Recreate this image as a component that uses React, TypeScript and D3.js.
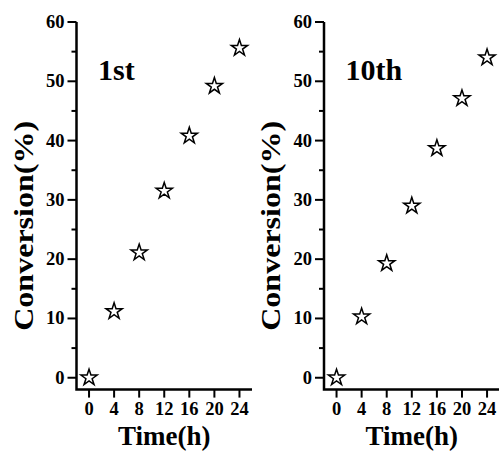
import React, { useRef, useEffect } from 'react';
import * as d3 from 'd3';

const times = [0, 4, 8, 12, 16, 20, 24];
const firstRun = [0, 11.2, 21.1, 31.5, 40.8, 49.2, 55.6];
const tenthRun = [0, 10.3, 19.3, 29.0, 38.7, 47.1, 54.0];
const yTicks = [0, 10, 20, 30, 40, 50, 60];
const yMinorTicks = [5, 15, 25, 35, 45, 55];
const panelLabels = ['1st', '10th'];

const W = 499;
const H = 454;
const FONT = '"Liberation Serif", "Times New Roman", serif';

export default function App() {
  const svgRef = useRef<SVGSVGElement>(null);

  useEffect(() => {
    if (!svgRef.current) return;
    const svg = d3.select(svgRef.current);
    svg.selectAll('*').remove();

    const yScale = d3.scaleLinear().domain([-2, 60]).range([389.6, 22]);
    const panels = [
      { left: 76.5, right: 252, values: firstRun, label: panelLabels[0] },
      { left: 324, right: 499.6, values: tenthRun, label: panelLabels[1] },
    ];

    const star = d3.symbol().type(d3.symbolStar).size(82);

    panels.forEach((p) => {
      const xScale = d3.scaleLinear().domain([-2, 26]).range([p.left, p.right]);
      const g = svg.append('g');
      const y0 = yScale.range()[0];

      // major y ticks + labels
      yTicks.forEach((t) => {
        g.append('line')
          .attr('x1', p.left - 9).attr('x2', p.left)
          .attr('y1', yScale(t)).attr('y2', yScale(t))
          .attr('stroke', '#000').attr('stroke-width', 2);
        g.append('text')
          .attr('x', p.left - 12)
          .attr('y', yScale(t) + 6)
          .attr('text-anchor', 'end')
          .attr('font-family', FONT)
          .attr('font-weight', 'bold')
          .attr('font-size', '18.5px')
          .text(t);
      });
      yMinorTicks.forEach((t) => {
        g.append('line')
          .attr('x1', p.left - 5).attr('x2', p.left)
          .attr('y1', yScale(t)).attr('y2', yScale(t))
          .attr('stroke', '#000').attr('stroke-width', 2);
      });

      // x ticks + labels
      times.forEach((t) => {
        g.append('line')
          .attr('x1', xScale(t)).attr('x2', xScale(t))
          .attr('y1', y0).attr('y2', y0 + 8)
          .attr('stroke', '#000').attr('stroke-width', 2);
        g.append('text')
          .attr('x', xScale(t))
          .attr('y', 415)
          .attr('text-anchor', 'middle')
          .attr('font-family', FONT)
          .attr('font-weight', 'bold')
          .attr('font-size', '18.5px')
          .text(t);
      });

      // axis lines
      g.append('path')
        .attr('d', `M${p.left},${yScale(60)}V${y0}H${p.right}`)
        .attr('fill', 'none')
        .attr('stroke', '#000')
        .attr('stroke-width', 2.5);

      // axis titles
      g.append('text')
        .attr('x', (xScale(0) + xScale(24)) / 2)
        .attr('y', 445)
        .attr('text-anchor', 'middle')
        .attr('font-family', FONT)
        .attr('font-weight', 'bold')
        .attr('font-size', '27px')
        .text('Time(h)');

      g.append('text')
        .attr('transform', `translate(${p.left - 44},${(yScale(60) + y0) / 2 + 20}) rotate(-90)`)
        .attr('text-anchor', 'middle')
        .attr('font-family', FONT)
        .attr('font-weight', 'bold')
        .attr('font-size', '28px')
        .attr('textLength', 210)
        .attr('lengthAdjust', 'spacingAndGlyphs')
        .text('Conversion(%)');

      // panel label
      g.append('text')
        .attr('x', p.left + 21.5)
        .attr('y', 80)
        .attr('font-family', FONT)
        .attr('font-weight', 'bold')
        .attr('font-size', '30px')
        .text(p.label);

      // star markers
      g.selectAll('path.pt')
        .data(times.map((t, i) => [t, p.values[i]]))
        .join('path')
        .attr('class', 'pt')
        .attr('transform', (d) => `translate(${xScale(d[0])},${yScale(d[1])})`)
        .attr('d', star() as string)
        .attr('fill', '#fff')
        .attr('stroke', '#000')
        .attr('stroke-width', 1.5)
        .attr('stroke-linejoin', 'miter');
    });
  }, []);

  return (
    <svg
      ref={svgRef}
      width={W}
      height={H}
      style={{ position: 'absolute', left: 0, top: 0, background: '#fff' }}
    />
  );
}
